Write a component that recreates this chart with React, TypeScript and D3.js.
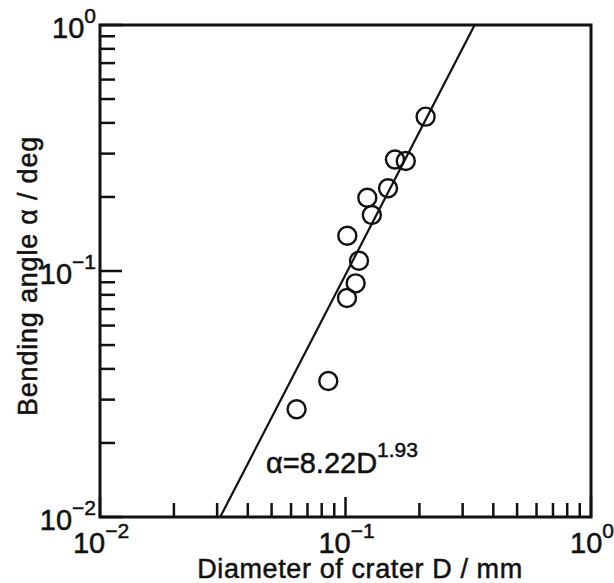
import React from "react";
import * as d3 from "d3";

const diameters = [0.212, 0.159, 0.176, 0.149, 0.1227, 0.128, 0.1017, 0.1135, 0.110, 0.1014, 0.0851, 0.0632];
const angles = [0.424, 0.284, 0.280, 0.217, 0.1986, 0.169, 0.139, 0.110, 0.0891, 0.0777, 0.0357, 0.0274];
const fitCoef = 8.22;
const fitExp = 1.93;
const xDomain = [0.01, 1];
const yDomain = [0.01, 1];
const majorTicks = [0.01, 0.1, 1];
const majorExps = ["\u22122", "\u22121", "0"];

const W = 614, H = 583;
const M = { left: 100, right: 591, top: 25, bottom: 517 };
const FONT = "'Liberation Sans', Arial, sans-serif";

export default function App() {
  const x = d3.scaleLog().domain(xDomain).range([M.left, M.right]);
  const y = d3.scaleLog().domain(yDomain).range([M.bottom, M.top]);

  const minor: number[] = [];
  for (const dec of [0.01, 0.1]) for (let k = 2; k <= 9; k++) minor.push(dec * k);

  const dAt = (a: number) => Math.pow(a / fitCoef, 1 / fitExp);
  const lineData: [number, number][] = [
    [dAt(yDomain[0]), yDomain[0]],
    [dAt(yDomain[1]), yDomain[1]],
  ];
  const line = d3.line<[number, number]>().x((d) => x(d[0])).y((d) => y(d[1]));

  const col = "#111";
  const txt = { fontFamily: FONT, fill: col, stroke: col, strokeWidth: 0.5 } as const;

  return (
    <svg width={W} height={H} style={{ position: "absolute", left: 0, top: 0, background: "#fff" }}>
      <rect x={0} y={0} width={W} height={H} fill="#fff" />
      <path d={line(lineData) || ""} stroke={col} strokeWidth={2.2} fill="none" />
      {diameters.map((d, i) => (
        <circle key={i} cx={x(d)} cy={y(angles[i])} r={9} fill="none" stroke={col} strokeWidth={2.4} />
      ))}
      <rect x={M.left} y={M.top} width={M.right - M.left} height={M.bottom - M.top} fill="none" stroke={col} strokeWidth={3} />
      {minor.map((v, i) => (
        <g key={"m" + i}>
          <line x1={M.left} x2={M.left + 15} y1={y(v)} y2={y(v)} stroke={col} strokeWidth={2.5} />
          <line x1={x(v)} x2={x(v)} y1={M.bottom} y2={M.bottom - 14} stroke={col} strokeWidth={2.5} />
        </g>
      ))}
      {majorTicks.map((v, i) => (
        <g key={"M" + i}>
          <line x1={M.left} x2={M.left + 22} y1={y(v)} y2={y(v)} stroke={col} strokeWidth={2.5} />
          <line x1={x(v)} x2={x(v)} y1={M.bottom} y2={M.bottom - 20} stroke={col} strokeWidth={2.5} />
        </g>
      ))}
      {majorTicks.map((v, i) => (
        <text key={"yl" + i} x={96} y={y(v) + 13} textAnchor="end" fontSize={29} {...txt}>
          10<tspan dy={-15} fontSize={21}>{majorExps[i]}</tspan>
        </text>
      ))}
      {majorTicks.map((v, i) => (
        <text key={"xl" + i} x={x(v) + 1} y={553} textAnchor="middle" fontSize={29} {...txt}>
          10<tspan dy={-15} fontSize={21}>{majorExps[i]}</tspan>
        </text>
      ))}
      <text x={266} y={473} fontSize={29} {...txt}>
        α=8.22D<tspan dy={-16} fontSize={21}>1.93</tspan>
      </text>
      <text x={360} y={578} textAnchor="middle" fontSize={27} letterSpacing={0.6} {...txt}>
        Diameter of crater D / mm
      </text>
      <text transform="translate(37,276) rotate(-90)" textAnchor="middle" fontSize={27} letterSpacing={0.8} {...txt}>
        Bending angle α / deg
      </text>
    </svg>
  );
}
